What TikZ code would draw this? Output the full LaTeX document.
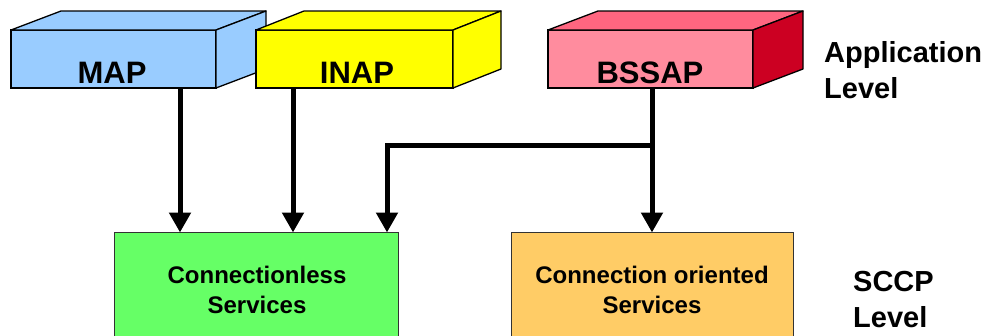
\documentclass[tikz,border=0pt]{standalone}
\usepackage{fontspec}
\setmainfont{Liberation Sans}
\usetikzlibrary{arrows.meta,calc}
\definecolor{mapblue}{HTML}{99CCFF}
\definecolor{inapyellow}{HTML}{FFFF00}
\definecolor{bssfront}{HTML}{FF8C9E}
\definecolor{bsstop}{HTML}{FF6680}
\definecolor{bssside}{HTML}{CC0022}
\definecolor{clgreen}{HTML}{66FF66}
\definecolor{coorange}{HTML}{FFCC66}
\tikzset{
  front/.style={draw=black, line width=1.3pt, minimum width=205pt, minimum height=58pt, inner sep=0pt, outer sep=0pt},
  face/.style={draw=black, line width=1.3pt, line join=round},
  boxlbl/.style={font=\fontsize{31}{34}\selectfont\bfseries, anchor=base, inner sep=0pt},
  svcbox/.style={draw=black!80, line width=1pt, inner sep=0pt, outer sep=0pt, minimum width=284pt, minimum height=120pt},
  svclbl/.style={font=\fontsize{24}{30}\selectfont\bfseries, align=center, inner sep=0pt, anchor=base},
  lvllbl/.style={font=\fontsize{29}{36}\selectfont\bfseries, align=left, inner sep=0pt, anchor=base west},
  conn/.style={line width=5pt},
  arr/.style={conn, -{Triangle[length=20pt,width=21pt]}, shorten >=-0.5pt},
}
\begin{document}
\begin{tikzpicture}[x=1pt,y=-1pt]
\useasboundingbox (0,0) rectangle (996,335);
% lower boxes
\node[svcbox, fill=clgreen, anchor=north west] (cl) at (114,232) {};
\node[svcbox, fill=coorange, anchor=north west, minimum width=282pt] (co) at (511,232) {};
\node[svclbl] (cltext) at (257,313) {Connectionless\\Services};
\node[svclbl] (cotext) at (652,313) {Connection oriented\\Services};
% MAP
\node[front, fill=mapblue, anchor=north west] (map) at (11,30) {};
\draw[face, fill=mapblue] (map.north west) -- ++(50,-19) -- ($(map.north east)+(50,-19)$) -- (map.north east) -- cycle;
\draw[face, fill=mapblue] (map.north east) -- ++(50,-19) -- ($(map.south east)+(50,-19)$) -- (map.south east) -- cycle;
\node[boxlbl] (maplbl) at (112,83) {MAP};
% INAP
\node[front, fill=inapyellow, anchor=north west, minimum width=197pt] (inap) at (256,30) {};
\draw[face, fill=inapyellow] (inap.north west) -- ++(48,-19) -- ($(inap.north east)+(48,-19)$) -- (inap.north east) -- cycle;
\draw[face, fill=inapyellow] (inap.north east) -- ++(48,-19) -- ($(inap.south east)+(48,-19)$) -- (inap.south east) -- cycle;
\node[boxlbl] (inaplbl) at (357,83) {INAP};
% BSSAP
\node[front, fill=bssfront, anchor=north west, minimum width=205pt] (bss) at (548,30) {};
\draw[face, fill=bsstop] (bss.north west) -- ++(50,-19) -- ($(bss.north east)+(50,-19)$) -- (bss.north east) -- cycle;
\draw[face, fill=bssside] (bss.north east) -- ++(50,-19) -- ($(bss.south east)+(50,-19)$) -- (bss.south east) -- cycle;
\node[boxlbl] (bsslbl) at (650,83) {BSSAP};
% level labels
\node[lvllbl] (applbl) at (824,98) {Application\\Level};
\node[lvllbl] (scclbl) at (853,327) {SCCP\\Level};
% connectors
\coordinate (mapout) at (180,88);
\coordinate (mapin) at (180,232);
\coordinate (inapout) at (293,88);
\coordinate (inapin) at (293,232);
\coordinate (bssout) at (652,88);
\coordinate (bssjoin) at (652,145);
\coordinate (bssin) at (652,232);
\coordinate (clin) at (387,232);
\draw[arr] (mapout) -- (mapin);
\draw[arr] (inapout) -- (inapin);
\draw[arr] (bssout) -- (bssin);
\draw[arr] (bssjoin) -- (387,145) -- (clin);
\end{tikzpicture}
\end{document}
